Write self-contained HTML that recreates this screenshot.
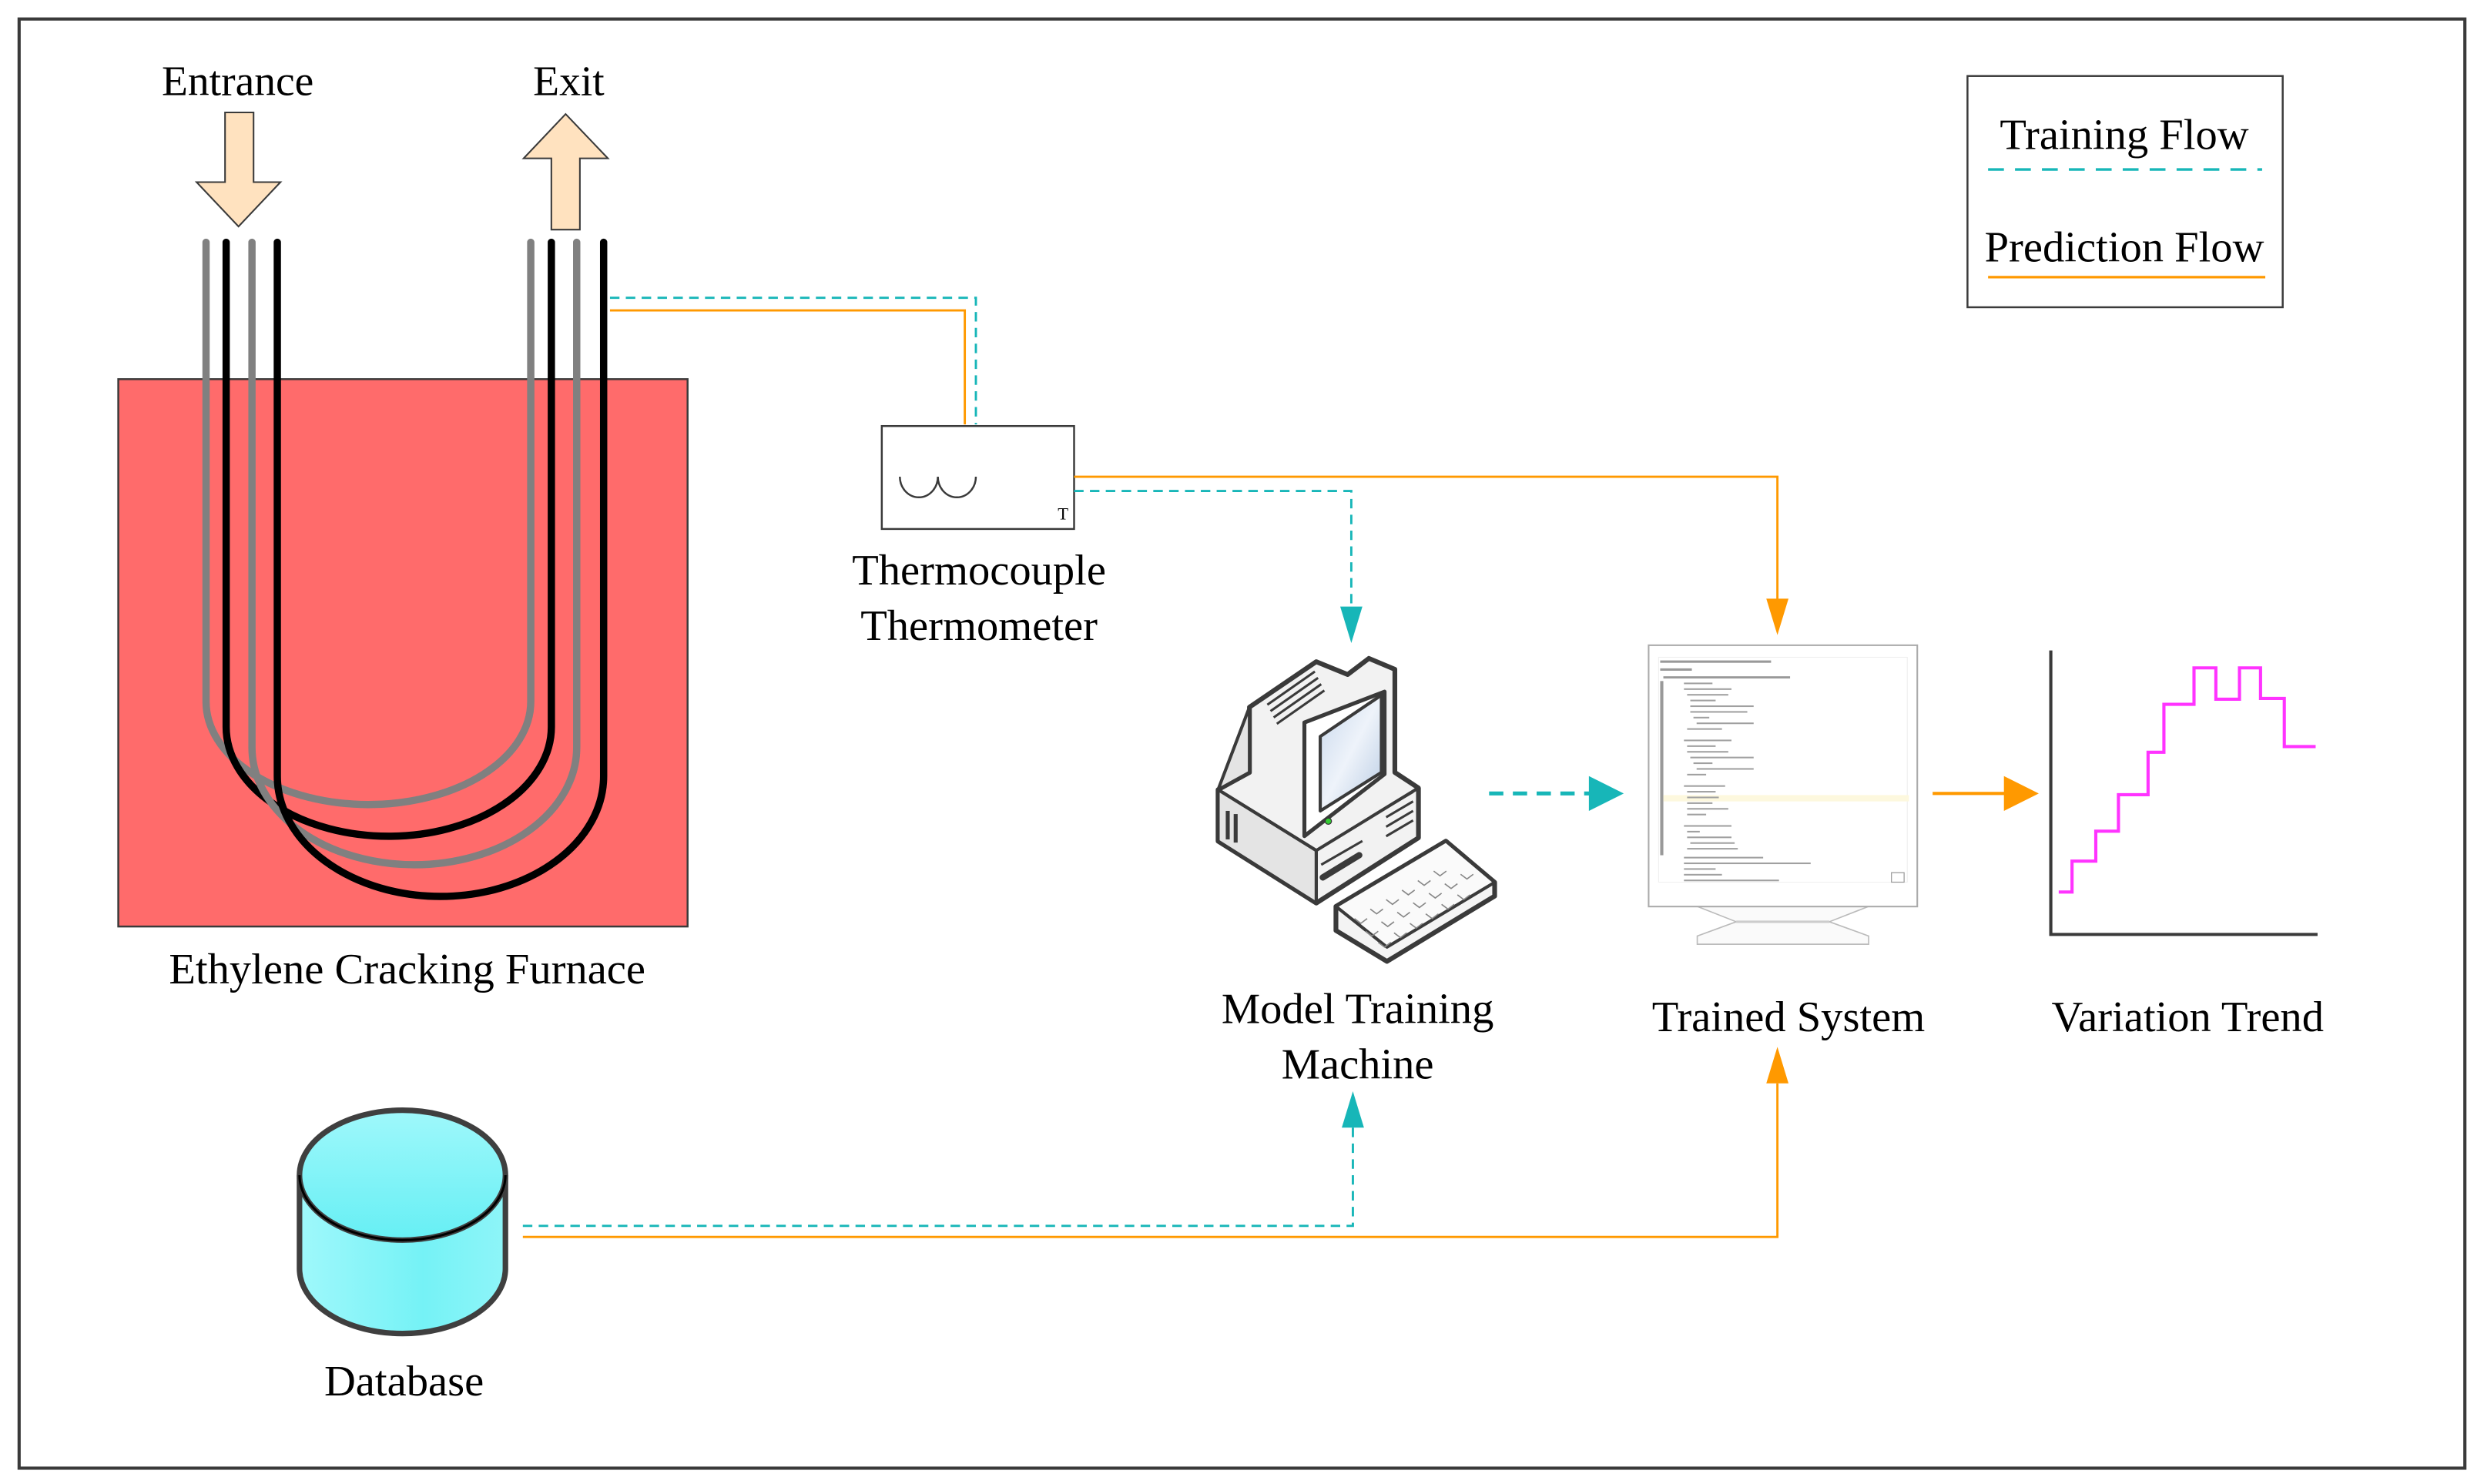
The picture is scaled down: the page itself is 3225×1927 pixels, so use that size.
<!DOCTYPE html>
<html><head><meta charset="utf-8"><style>
html,body{margin:0;padding:0;background:#fff;}
svg{display:block;}
text{font-family:"Liberation Serif",serif;fill:#000;}
</style></head><body>
<svg width="3225" height="1927" viewBox="0 0 1568 937" xmlns="http://www.w3.org/2000/svg">
<defs>
<linearGradient id="cyl" x1="0" y1="0" x2="1" y2="0"><stop offset="0" stop-color="#9ff8fb"/><stop offset="0.6" stop-color="#75f2f6"/><stop offset="1" stop-color="#8ef5f8"/></linearGradient>
<linearGradient id="cyltop" x1="0" y1="0" x2="0" y2="1"><stop offset="0" stop-color="#9ff8fb"/><stop offset="1" stop-color="#66eff4"/></linearGradient>
<linearGradient id="scr" x1="0" y1="0" x2="1" y2="1"><stop offset="0" stop-color="#c8d8ec"/><stop offset="0.5" stop-color="#eef3fa"/><stop offset="1" stop-color="#b8cbe3"/></linearGradient>
</defs>
<rect x="0" y="0" width="1568" height="937" fill="#fff"/>
<rect x="12" y="12" width="1544" height="915" fill="none" stroke="#3a3a3a" stroke-width="2"/>

<!-- Furnace -->
<rect x="74.6" y="239.4" width="359.4" height="345.6" fill="#ff6b6b" stroke="#3a3a3a" stroke-width="1.2"/>
<g fill="none" stroke-width="4.6" stroke-linecap="round">
<path d="M130,153 L130,443 A102.5,65 0 0 0 335,443 L335,153" stroke="#808080"/>
<path d="M142.7,153 L142.7,459 A102.6,69 0 0 0 348,459 L348,153" stroke="#000"/>
<path d="M159,153 L159,472 A102.5,74 0 0 0 364,472 L364,153" stroke="#808080"/>
<path d="M175,153 L175,490 A103,76 0 0 0 381,490 L381,153" stroke="#000"/>
</g>
<polygon points="142,71 160,71 160,115 177,115 150.5,143 124,115 142,115" fill="#ffe2bf" stroke="#3a3a3a" stroke-width="1"/>
<polygon points="348,145 366,145 366,100 383.7,100 357,72 330.5,100 348,100" fill="#ffe2bf" stroke="#3a3a3a" stroke-width="1"/>
<text x="150" y="60" font-size="27" text-anchor="middle">Entrance</text>
<text x="359" y="60" font-size="27" text-anchor="middle">Exit</text>
<text x="257" y="621" font-size="27.5" text-anchor="middle">Ethylene Cracking Furnace</text>

<path d="M385,188 L616,188 L616,268" fill="none" stroke="#17b6b8" stroke-width="1.4" stroke-dasharray="6,4"/>
<path d="M385,196 L609,196 L609,268" fill="none" stroke="#ff9900" stroke-width="1.4"/>

<rect x="556.6" y="269" width="121.4" height="65" fill="#fff" stroke="#3a3a3a" stroke-width="1.2"/>
<path d="M568,301 A12,13 0 0 0 592,301 A12,13 0 0 0 616,301" fill="none" stroke="#3a3a3a" stroke-width="1.2"/>
<text x="671" y="328" font-size="11" text-anchor="middle">T</text>
<text x="618" y="369" font-size="27.5" text-anchor="middle">Thermocouple</text>
<text x="618" y="404" font-size="27.5" text-anchor="middle">Thermometer</text>

<path d="M678,301 L1122,301 L1122,380" fill="none" stroke="#ff9900" stroke-width="1.4"/>
<polygon points="1115,378 1129,378 1122,401" fill="#ff9900"/>
<path d="M678,310 L853,310 L853,384" fill="none" stroke="#17b6b8" stroke-width="1.4" stroke-dasharray="6,4"/>
<polygon points="846,383 860,383 853,406" fill="#17b6b8"/>

<!-- computer icon -->
<g stroke="#3a3a3a" stroke-width="3" stroke-linejoin="round">
<polygon points="788.7,446.5 830.9,417.8 850.7,425.9 864.1,415.7 880.5,422.6 880.5,487.7 895.4,497.5 895.4,529 830.9,570.2 768.9,531.1 768.9,498.6 788.7,487.7" fill="#f2f2f2"/>
<polygon points="788.7,446.5 788.7,487.7 768.9,498.6 830.9,537 830.9,570.2 768.9,531.1 768.9,498.6" fill="#e4e4e4" stroke-width="2"/>
<polyline points="768.9,498.6 830.9,537 895.4,497.5" fill="none" stroke-width="2"/>
<line x1="830.9" y1="537" x2="830.9" y2="570" stroke-width="2"/>
<polygon points="823.4,456.2 874,436.7 874,488.8 823.4,527.9" fill="#fff" stroke-width="2.5"/>
<polygon points="833.4,465 872,438.9 872,487.7 833.4,512" fill="url(#scr)" stroke-width="2"/>
<polygon points="843.3,572.3 912.7,531.1 943.5,557.1 943.5,565.8 875.5,607 843.3,587.5" fill="#f4f4f4"/>
<polygon points="843.3,572.3 912.7,531.1 943.5,557.1 875.5,598" fill="#fafafa" stroke-width="2"/>
</g>
<g stroke="#3a3a3a" stroke-width="1.5">
<line x1="800" y1="445" x2="830" y2="424"/><line x1="802" y1="449" x2="832" y2="428"/><line x1="804" y1="453" x2="834" y2="432"/><line x1="806" y1="457" x2="836" y2="436"/>
<line x1="875" y1="510" x2="892" y2="500"/><line x1="875" y1="516" x2="892" y2="506"/><line x1="875" y1="522" x2="892" y2="512"/><line x1="875" y1="528" x2="892" y2="518"/>
<line x1="775" y1="512" x2="775" y2="530" stroke-width="2.5"/><line x1="780" y1="514" x2="780" y2="532" stroke-width="2.5"/>
<line x1="835" y1="554" x2="858" y2="540" stroke-width="4" stroke-linecap="round"/>
<line x1="834" y1="546" x2="860" y2="531"/>
</g>
<circle cx="838.5" cy="518.5" r="2" fill="#3c3" stroke="#333" stroke-width="0.6"/>
<g stroke="#888" stroke-width="0.8" fill="none">
<path d="M855,580 l4,3 l4,-3 M865,574 l4,3 l4,-3 M875,568 l4,3 l4,-3 M885,562 l4,3 l4,-3 M895,556 l4,3 l4,-3 M905,550 l4,3 l4,-3"/>
<path d="M862,588 l4,3 l4,-3 M872,582 l4,3 l4,-3 M882,576 l4,3 l4,-3 M892,570 l4,3 l4,-3 M902,564 l4,3 l4,-3 M912,558 l4,3 l4,-3 M922,552 l4,3 l4,-3"/>
<path d="M870,595 l4,3 l4,-3 M880,589 l4,3 l4,-3 M890,583 l4,3 l4,-3 M900,577 l4,3 l4,-3 M910,571 l4,3 l4,-3 M920,565 l4,3 l4,-3"/>
</g>
<text x="857" y="646" font-size="27.5" text-anchor="middle">Model Training</text>
<text x="857" y="681" font-size="27.5" text-anchor="middle">Machine</text>

<line x1="940" y1="501" x2="1004" y2="501" stroke="#17b6b8" stroke-width="2.5" stroke-dasharray="9,6"/>
<polygon points="1003,490 1025,501 1003,512" fill="#17b6b8"/>

<!-- trained system monitor -->
<polygon points="1071.4,572.3 1096,582 1071.4,591 1071.4,596.2 1179.6,596.2 1179.6,591 1154.8,582 1179.6,572.3" fill="#fafafa" stroke="#bbb" stroke-width="0.8"/>
<line x1="1096" y1="582" x2="1154.8" y2="582" stroke="#ccc" stroke-width="1.5"/>
<rect x="1040.7" y="407.4" width="169.6" height="165" fill="#fff" stroke="#aaa" stroke-width="1"/>
<rect x="1047" y="415" width="157" height="142" fill="#fff" stroke="#eee" stroke-width="0.5"/>
<g fill="#999">
<rect x="1048" y="417" width="70" height="1.5"/>
<rect x="1048" y="422" width="20" height="1.5"/>
<rect x="1050" y="427" width="80" height="1.4"/>
<rect x="1048" y="430" width="2" height="110"/>
</g>
<rect x="1050" y="502" width="155" height="4" fill="#fdf8de"/>
<rect x="1194" y="551" width="8" height="6" fill="none" stroke="#999" stroke-width="0.6"/>
<g fill="#a0a0a0">
<rect x="1063" y="431" width="18" height="1"/><rect x="1063" y="434.6" width="30" height="1"/><rect x="1065" y="438.2" width="26" height="1"/><rect x="1067" y="441.8" width="16" height="1"/><rect x="1067" y="445.4" width="40" height="1"/><rect x="1067" y="449" width="36" height="1"/><rect x="1069" y="452.6" width="10" height="1"/><rect x="1071" y="456.2" width="36" height="1"/><rect x="1065" y="459.8" width="22" height="1"/>
<rect x="1063" y="467" width="30" height="1"/><rect x="1065" y="470.6" width="18" height="1"/><rect x="1065" y="474.2" width="26" height="1"/><rect x="1067" y="477.8" width="40" height="1"/><rect x="1069" y="481.4" width="12" height="1"/><rect x="1071" y="485" width="36" height="1"/><rect x="1065" y="488.6" width="12" height="1"/>
<rect x="1063" y="495.8" width="26" height="1"/><rect x="1065" y="499.4" width="18" height="1"/><rect x="1065" y="503" width="20" height="1"/><rect x="1065" y="506.6" width="16" height="1"/><rect x="1065" y="510.2" width="26" height="1"/><rect x="1065" y="513.8" width="12" height="1"/>
<rect x="1063" y="521" width="30" height="1"/><rect x="1065" y="524.6" width="8" height="1"/><rect x="1065" y="528.2" width="28" height="1"/><rect x="1067" y="531.8" width="28" height="1"/><rect x="1065" y="535.4" width="32" height="1"/>
<rect x="1063" y="541" width="50" height="1"/><rect x="1063" y="544.6" width="80" height="1"/><rect x="1063" y="548.2" width="20" height="1"/><rect x="1063" y="551.8" width="24" height="1"/><rect x="1063" y="555.4" width="60" height="1"/>
</g>
<text x="1129" y="651" font-size="27.5" text-anchor="middle">Trained System</text>

<line x1="1220" y1="501" x2="1267" y2="501" stroke="#ff9900" stroke-width="2"/>
<polygon points="1265,490 1287,501 1265,512" fill="#ff9900"/>
<path d="M1294.6,410.7 L1294.6,590 L1463,590" fill="none" stroke="#3a3a3a" stroke-width="2"/>
<polyline points="1299.6,563.2 1308,563.2 1308,543.7 1323,543.7 1323,524.8 1337.3,524.8 1337.3,501.8 1356,501.8 1356,475 1366,475 1366,444.7 1385,444.7 1385,421.7 1398.8,421.7 1398.8,441.5 1413.7,441.5 1413.7,421.7 1427,421.7 1427,441 1442,441 1442,471.4 1461.8,471.4" fill="none" stroke="#ff33ff" stroke-width="2"/>
<text x="1381" y="651" font-size="27.5" text-anchor="middle">Variation Trend</text>

<path d="M189,742 L189,801 A65,41 0 0 0 319,801 L319,742" fill="url(#cyl)" stroke="#3f3f3f" stroke-width="3.5"/>
<ellipse cx="254" cy="742" rx="65" ry="41" fill="url(#cyltop)" stroke="#3f3f3f" stroke-width="3.5"/>
<path d="M189,742 A65,41 0 0 0 319,742" fill="none" stroke="#000" stroke-width="1.5"/>
<text x="255" y="881" font-size="27.5" text-anchor="middle">Database</text>

<path d="M330,774 L854,774 L854,712" fill="none" stroke="#17b6b8" stroke-width="1.4" stroke-dasharray="6,4"/>
<polygon points="847,712 861,712 854,689" fill="#17b6b8"/>
<path d="M330,781 L1122,781 L1122,684" fill="none" stroke="#ff9900" stroke-width="1.4"/>
<polygon points="1115,684 1129,684 1122,661" fill="#ff9900"/>

<rect x="1242" y="48" width="199" height="146" fill="#fff" stroke="#3a3a3a" stroke-width="1.2"/>
<text x="1341" y="94" font-size="27.5" text-anchor="middle">Training Flow</text>
<line x1="1255" y1="107" x2="1428" y2="107" stroke="#17b6b8" stroke-width="1.6" stroke-dasharray="10,7"/>
<text x="1341" y="165" font-size="27.5" text-anchor="middle">Prediction Flow</text>
<line x1="1255" y1="175" x2="1430" y2="175" stroke="#ff9900" stroke-width="1.6"/>
</svg>
</body></html>
